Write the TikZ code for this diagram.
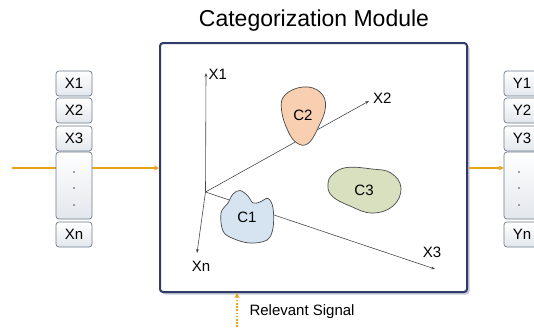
\documentclass[tikz,border=0pt]{standalone}
\usepackage{fontspec}
\setmainfont{Liberation Sans}
\usetikzlibrary{arrows.meta,shadows}
\definecolor{navy}{HTML}{2E3B6B}
\definecolor{orng}{HTML}{E9A31A}
\definecolor{boxborder}{HTML}{6A7B8C}
\definecolor{boxgray}{HTML}{E3E7EC}
\definecolor{axisgray}{HTML}{4A4A4A}
\definecolor{peach}{HTML}{F8CFB0}
\definecolor{sage}{HTML}{D8E0C0}
\definecolor{paleblue}{HTML}{D6E4F2}
\begin{document}
\begin{tikzpicture}[x=1pt,y=-1pt,
  smalltext/.style={font=\fontsize{15}{17}\selectfont},
  cellbox/.style={draw=boxborder, line width=0.7pt, rounded corners=3pt, top color=white, bottom color=boxgray, minimum width=36pt, minimum height=25pt, inner sep=0pt, smalltext},
  dotsbox/.style={cellbox, minimum height=67pt},
  flow/.style={draw=orng, line width=1.1pt, -{Stealth[length=5pt,width=5pt]}},
  axis/.style={draw=axisgray, line width=0.6pt, -{Stealth[length=4pt,width=3pt]}},
  blob/.style={draw=axisgray, line width=0.7pt},
  dotmark/.style={circle, fill=black!70, inner sep=0pt, minimum size=1.6pt}]
\useasboundingbox (0,0) rectangle (534,327);
% flows
\coordinate (inL) at (12,168);
\coordinate (outS) at (469,168);
\coordinate (sigB) at (237,327);
% main box
\node[draw=navy, line width=2pt, rounded corners=3pt, fill=white, minimum width=307pt, minimum height=249pt, inner sep=0pt,
  drop shadow={shadow xshift=2.5pt, shadow yshift=-2.5pt, fill=navy!35, opacity=0.8}] (main) at (313.5,167.5) {};
\draw[flow] (inL) -- (inL -| main.west);
% title
\node[font=\fontsize{23}{26}\selectfont] (title) at (314,21) {Categorization Module};
% left cells
\node[cellbox] (x1) at (74,83.5) {X1};
\node[cellbox] (x2) at (74,110.5) {X2};
\node[cellbox] (x3) at (74,138.5) {X3};
\node[dotsbox] (xd) at (74,185.5) {};
\node[cellbox] (xn) at (74,234.5) {Xn};
\node[dotmark] (xd1) at (74,172) {};
\node[dotmark] (xd2) at (74,188) {};
\node[dotmark] (xd3) at (74,205) {};
% right cells
\node[cellbox] (y1) at (522,83.5) {Y1};
\node[cellbox] (y2) at (522,110.5) {Y2};
\node[cellbox] (y3) at (522,138.5) {Y3};
\node[dotsbox] (yd) at (522,185.5) {};
\node[cellbox] (yn) at (522,234.5) {Yn};
\node[dotmark] (yd1) at (519,172) {};
\node[dotmark] (yd2) at (519,188) {};
\node[dotmark] (yd3) at (519,205) {};
\draw[flow] (outS) -- (outS -| yd.west);
% axes
\coordinate (O) at (205.5,192);
\coordinate (a1) at (206,73);
\coordinate (a2) at (369,101);
\coordinate (a3) at (435,269);
\coordinate (an) at (197,253);
\draw[axis] (O) -- (a1);
\draw[axis] (O) -- (a2);
\draw[axis] (O) -- (a3);
\draw[axis] (O) -- (an);
\node[smalltext, anchor=west, inner sep=0pt] (l1) at (208.5,74) {X1};
\node[smalltext, anchor=west, inner sep=0pt] (l2) at (373,98.5) {X2};
\node[smalltext, inner sep=0pt] (l3) at (432,252.5) {X3};
\node[smalltext, inner sep=0pt] (ln) at (201,266.5) {Xn};
% clusters
\draw[blob, fill=peach] plot[smooth cycle, tension=0.7] coordinates {(303,87) (320,92) (325.5,107) (318,128) (308,143.5) (297,143) (288,131) (281.5,110) (285,95)};
\node[smalltext] (c2) at (303,115.5) {C2};
\draw[blob, fill=sage] plot[smooth cycle, tension=0.7] coordinates {(347,167.5) (372,169) (391,173) (401,188) (393,206) (372,213) (350,206) (332,196) (328,184) (333,174)};
\node[smalltext] (c3) at (364,190) {C3};
\draw[blob, fill=paleblue] plot[smooth cycle, tension=0.6] coordinates {(240,190.5) (248,196) (253,203) (260,202) (268,198.5) (273,208) (273,228) (267,240) (250,243) (233,238.5) (223,231) (221,213) (228,203) (233,194)};
\node[smalltext] (c1) at (247,217.5) {C1};
% relevant signal
\draw[draw=orng, line width=1.3pt, dash pattern=on 1.6pt off 1.6pt, -{Stealth[length=5pt,width=5pt]}] (sigB) -- (sigB |- main.south);
\node[smalltext, anchor=west] (sig) at (246,312) {Relevant Signal};
\end{tikzpicture}
\end{document}
